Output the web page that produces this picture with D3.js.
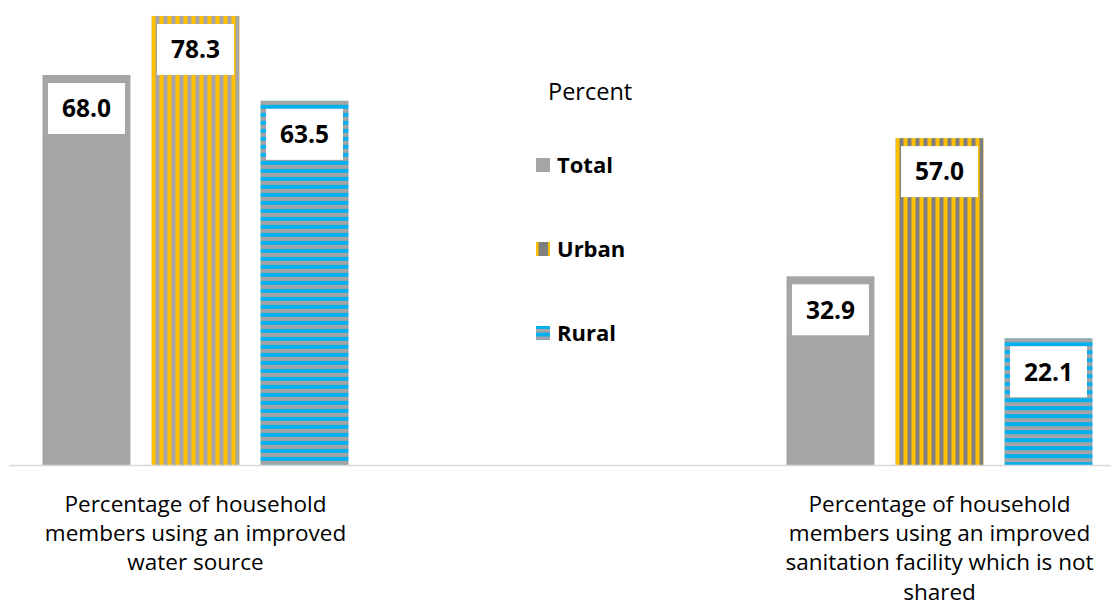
<!DOCTYPE html>
<html>
<head>
<meta charset="utf-8">
<script src="https://cdn.jsdelivr.net/npm/d3@7"></script>
<style>
  html, body { margin: 0; padding: 0; background: #ffffff; }
  svg { display: block; font-family: "Open Sans", "Noto Sans", sans-serif; }
</style>
</head>
<body>
<svg id="chart" width="1111" height="607"></svg>
<script>
// ---- data ----
const categories = [
  "Percentage of household\nmembers using an improved\nwater source",
  "Percentage of household\nmembers using an improved\nsanitation facility which is not\nshared"
];
const seriesNames = ["Total", "Urban", "Rural"];
const totalValues = [68.0, 32.9];
const urbanValues = [78.3, 57.0];
const ruralValues = [63.5, 22.1];
const legendTitle = "Percent";

// ---- layout ----
const W = 1111, H = 607;
const baseY = 465;
const svg = d3.select("#chart");
const defs = svg.append("defs");

const y = d3.scaleLinear().domain([0, 80]).range([baseY, 6.2]);
const xGroup = d3.scalePoint().domain(categories).range([195.5, 939.5]);
const xSub = d3.scaleBand().domain(seriesNames).range([-153, 153]).paddingInner(0.193).paddingOuter(0);

const GREY = "#a5a5a5", DGREY = "#7f7f7f", YELLOW = "#ffc000", BLUE = "#00b0f0";

function vStripe(id, x0, stripeColor) {
  const p = defs.append("pattern").attr("id", id).attr("patternUnits", "userSpaceOnUse")
    .attr("x", x0).attr("y", 0).attr("width", 8).attr("height", 8);
  p.append("rect").attr("width", 8).attr("height", 8).attr("fill", stripeColor);
  p.append("rect").attr("width", 4).attr("height", 8).attr("fill", YELLOW);
}
function hStripe(id, y0) {
  const p = defs.append("pattern").attr("id", id).attr("patternUnits", "userSpaceOnUse")
    .attr("x", 0).attr("y", y0).attr("width", 8).attr("height", 8);
  p.append("rect").attr("width", 8).attr("height", 8).attr("fill", BLUE);
  p.append("rect").attr("width", 8).attr("height", 4).attr("fill", GREY);
}

const rows = [];
categories.forEach((c, i) => {
  rows.push({cat: c, s: "Total", v: totalValues[i], gi: i});
  rows.push({cat: c, s: "Urban", v: urbanValues[i], gi: i});
  rows.push({cat: c, s: "Rural", v: ruralValues[i], gi: i});
});

rows.forEach((d, k) => {
  d.x = xGroup(d.cat) + xSub(d.s);
  d.w = xSub.bandwidth();
  d.y = y(d.v);
  d.h = baseY - d.y;
  if (d.s === "Total") d.fill = GREY;
  else if (d.s === "Urban") { vStripe("u" + k, d.x, d.gi === 0 ? GREY : DGREY); d.fill = "url(#u" + k + ")"; }
  else { hStripe("r" + k, d.y); d.fill = "url(#r" + k + ")"; }
});

// bars
svg.append("g").selectAll("rect").data(rows).join("rect")
  .attr("x", d => d.x).attr("y", d => d.y)
  .attr("width", d => d.w).attr("height", d => d.h)
  .attr("fill", d => d.fill);

// axis baseline
svg.append("line").attr("x1", 9).attr("x2", W).attr("y1", baseY + 0.5).attr("y2", baseY + 0.5)
  .attr("stroke", "#d9d9d9").attr("stroke-width", 1.5);

// data labels
const boxW = 77, boxH = 51, boxOff = 8;
const lab = svg.append("g").selectAll("g").data(rows).join("g")
  .attr("transform", d => `translate(${d.x + d.w / 2},${d.y + boxOff})`);
lab.append("rect").attr("x", -boxW / 2).attr("y", 0).attr("width", boxW).attr("height", boxH)
  .attr("fill", "#ffffff");
lab.append("text").attr("x", 0).attr("y", boxH / 2).attr("dy", "0.36em")
  .attr("text-anchor", "middle").attr("font-weight", "bold").attr("font-size", 24.5)
  .attr("fill", "#000").text(d => d.v.toFixed(1));

// category labels
const catG = svg.append("g").selectAll("text").data(categories).join("text")
  .attr("text-anchor", "middle").attr("font-size", 22.5).attr("fill", "#000");
catG.each(function(c) {
  const t = d3.select(this);
  c.split("\n").forEach((line, i) => {
    t.append("tspan").attr("x", xGroup(c)).attr("y", 504 + i * 29.3).attr("dy", "0.35em").text(line);
  });
});

// legend
svg.append("text").attr("x", 548).attr("y", 92).attr("dy", "0.35em")
  .attr("font-size", 23.5).attr("fill", "#000").text(legendTitle);

const lu = defs.append("pattern").attr("id", "legU").attr("patternUnits", "userSpaceOnUse")
  .attr("x", 536).attr("y", 0).attr("width", 12).attr("height", 14);
lu.append("rect").attr("width", 12).attr("height", 14).attr("fill", DGREY);
lu.append("rect").attr("width", 2.5).attr("height", 14).attr("fill", YELLOW);
const lr = defs.append("pattern").attr("id", "legR").attr("patternUnits", "userSpaceOnUse")
  .attr("x", 0).attr("y", 326).attr("width", 14).attr("height", 7.5);
lr.append("rect").attr("width", 14).attr("height", 7.5).attr("fill", BLUE);
lr.append("rect").attr("width", 14).attr("height", 3.5).attr("fill", GREY);

const legendFills = ["#a5a5a5", "url(#legU)", "url(#legR)"];
const legY = d3.scalePoint().domain(seriesNames).range([165, 333]);
const lg = svg.append("g").selectAll("g").data(seriesNames).join("g")
  .attr("transform", d => `translate(0,${legY(d)})`);
lg.append("rect").attr("x", 536).attr("y", -7).attr("width", 14).attr("height", 14)
  .attr("fill", (d, i) => legendFills[i]);
lg.append("text").attr("x", 557).attr("y", 0).attr("dy", "0.35em")
  .attr("font-size", 22).attr("font-weight", "bold").attr("fill", "#000").text(d => d);
</script>
</body>
</html>
